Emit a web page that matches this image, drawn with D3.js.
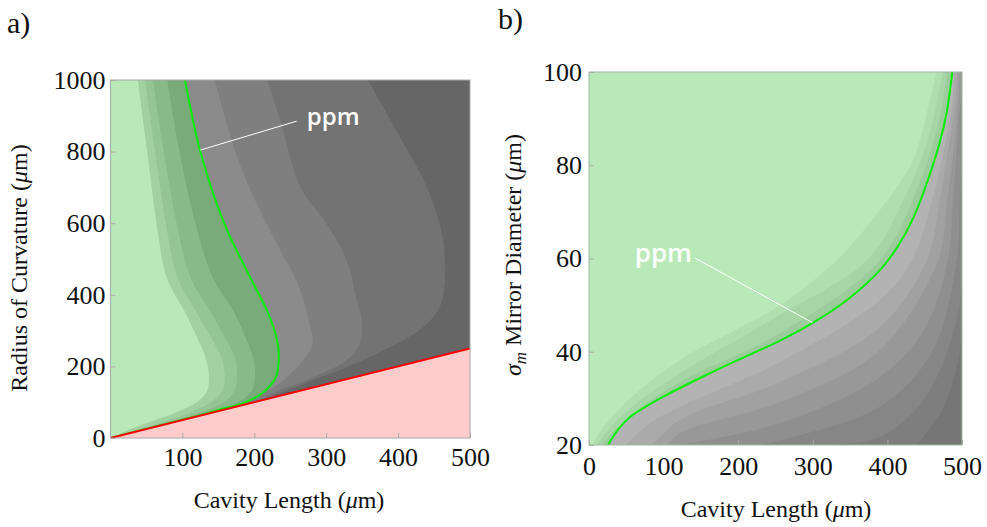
<!DOCTYPE html>
<html><head><meta charset="utf-8">
<script src="https://cdn.jsdelivr.net/npm/d3@7"></script>
<style>
body{margin:0;background:#fff}
.serif{font-family:"Liberation Serif","Times New Roman",serif}
.tag{font-family:"Open Sans",sans-serif;font-weight:600;fill:#ffffff}
</style>
</head><body>
<svg id="chart" width="987" height="527"></svg>
<script>
// ---------- axis ticks ----------
const lengthTicksA = [100, 200, 300, 400, 500];
const radiusTicks = [0, 200, 400, 600, 800, 1000];
const lengthTicksB = [0, 100, 200, 300, 400, 500];
const diameterTicks = [20, 40, 60, 80, 100];

// ---------- panel (a): loss contours, [cavity length, radius of curvature] ----------
// gray contours (right of the ppm line)
const rocGray3 = [[358,1000],[400,850],[440,701],[462,561],[465,469],[465,433],[458,366],[435,310],[389,254],[329,198],[280,160],[236,126],[210,106],[0,0]];
const rocGray2 = [[218,1000],[236,888],[264,701],[300,600],[322,525],[333,469],[340,405],[350,321],[347,265],[329,218],[282,170],[236,134],[200,102],[0,0]];
const rocGray1 = [[145,1000],[173,804],[201,665],[236,525],[260,433],[278,310],[281,265],[268,218],[236,154],[200,112],[165,85],[0,0]];
// ppm contour
const rocPpm = [[103.6,1000],[125,800],[158,600],[194,450],[219,350],[232,270],[234,220],[230,170],[214,130],[188,100],[150,78],[114,58],[0,0]];
// green contours (left of the ppm line)
const rocGreen4 = [[79,1000],[96,800],[118,600],[142,450],[172,350],[190,270],[199,220],[201,170],[196,130],[178,100],[140,72],[106,54],[76,39],[0,0]];
const rocGreen3 = [[59,1000],[74,800],[92,600],[111,450],[140,350],[162,270],[174,220],[176,170],[172,130],[158,100],[130,75],[100,55],[72,40],[45,25],[0,0]];
const rocGreen2 = [[48,1000],[62,800],[77,600],[93,450],[120,350],[143,270],[155,220],[159,170],[155,130],[140,100],[115,75],[90,55],[66,40],[40,25],[0,0]];
const rocGreen1 = [[38,1000],[51,800],[64,600],[78,450],[104,350],[123,270],[133,220],[137,170],[134,130],[120,100],[95,75],[70,55],[48,40],[28,25],[0,0]];
// stability edge R = L/2
const stabilityEdge = [[0,0],[500,250]];

const rocContours = [rocGray3, rocGray2, rocGray1, rocPpm, rocGreen4, rocGreen3, rocGreen2, rocGreen1];
const rocFillColors = ["#737373", "#7f7f7f", "#8b8b8b", "#79aa79", "#88b988", "#94c594", "#a1d0a1", "#b9e9b9"];
const rocBaseColor = "#666666";

// ---------- panel (b): loss contours, [cavity length, mirror diameter] ----------
const diaGray7 = [[440,20],[475,28],[495,38],[500,45]];
const diaGray6 = [[330,20],[390,21.7],[450,30],[490,45],[500,55]];
const diaGray5 = [[230,20],[256,21],[390,28.2],[460,40],[493,59.7],[497,72.5],[500,78]];
const diaGray4 = [[122,20],[256,24.7],[390,34.6],[450,45],[481,59.7],[488,72.5],[495,88],[500,96]];
const diaGray3 = [[105,20],[122,22.6],[256,29.2],[390,40.4],[468,59.7],[480,72.5],[490,85],[494,92],[497,100]];
const diaGray2 = [[85,20],[122,25.4],[256,33.5],[390,45.3],[453,59.7],[470,72.5],[483,85],[490,92],[494,100]];
const diaGray1 = [[50,20],[80,24.5],[122,28.2],[256,37.8],[390,51.1],[433,59.7],[460,72.5],[478,85],[486,92],[490,100]];
const diaPpm = [[25.5,20],[40,23.5],[55,26],[99,30.3],[166,35.7],[220,39.7],[256,42.4],[300,46.2],[346,51.1],[390,57.5],[414,62.6],[432,67.8],[448,74],[470,84.8],[480,91.8],[487,100]];
const diaGreen3 = [[17,20],[40,24],[70,28],[122,33.5],[256,44],[390,59.7],[440,75],[470,90],[480,100]];
const diaGreen2 = [[10.7,20],[30,24],[60,28.5],[122,35.4],[256,47.9],[373,59.7],[420,72],[455,86],[474,100]];
const diaGreen1 = [[4,20],[20,24],[55,30],[122,38.2],[256,50],[332,59.7],[390,70.4],[434,81],[457,94],[466,100]];

const diaContours = [diaGray7, diaGray6, diaGray5, diaGray4, diaGray3, diaGray2, diaGray1, diaPpm, diaGreen3, diaGreen2, diaGreen1];
const diaFillColors = ["#7e7e7e", "#868686", "#8f8f8f", "#989898", "#a1a1a1", "#aaaaaa", "#b3b3b3", "#9ccc9c", "#a6d6a6", "#afdfaf", "#b9e9b9"];
const diaBaseColor = "#767676";

// ---------- drawing ----------
const svg = d3.select("#chart");
const frameColor = "#a8a8a8";

function panel(opts) {
  const { id, x, y, xTicks, yTicks, base, contours, colors, cornersOf } = opts;
  const [x0, x1] = x.range(), [y0, y1] = y.range();
  const g = svg.append("g");
  g.append("clipPath").attr("id", id).append("rect")
    .attr("x", x0).attr("y", y1).attr("width", x1 - x0).attr("height", y0 - y1);
  const plot = g.append("g").attr("clip-path", `url(#${id})`);
  plot.append("rect").attr("x", x0).attr("y", y1).attr("width", x1 - x0).attr("height", y0 - y1).attr("fill", base);
  const smooth = d3.line().x(d => x(d[0])).y(d => y(d[1])).curve(d3.curveCatmullRom.alpha(0.5));
  const straight = d3.line().x(d => x(d[0])).y(d => y(d[1]));
  contours.forEach((c, i) => {
    // smooth contour, closed along the plot edges
    const tail = cornersOf(c).map(p => `L${x(p[0])},${y(p[1])}`).join("");
    plot.append("path").attr("d", smooth(c) + tail + "Z").attr("fill", colors[i]);
  });
  // axes (ticks point inward)
  const fmt = d3.format("d");
  const ax = g.append("g").attr("transform", `translate(0,${y0})`)
    .call(d3.axisBottom(x).tickValues(xTicks).tickFormat(fmt).tickSizeInner(-5).tickSizeOuter(0).tickPadding(opts.xPad));
  const ay = g.append("g").attr("transform", `translate(${x0},0)`)
    .call(d3.axisLeft(y).tickValues(yTicks).tickFormat(fmt).tickSizeInner(-5).tickSizeOuter(0).tickPadding(opts.yPad));
  [ax, ay].forEach(a => {
    a.attr("font-family", null).attr("font-size", null);
    a.select(".domain").remove();
    a.selectAll(".tick line").attr("stroke", frameColor);
    a.selectAll(".tick text").attr("class", "serif").style("font-size", "26px").attr("fill", "#111");
  });
  return { g, plot, smooth, straight };
}

// panel (a)
const xA = d3.scaleLinear([0, 500], [110.5, 470]);
const yA = d3.scaleLinear([0, 1000], [438, 80]);
const pa = panel({
  id: "clipA", x: xA, y: yA, xTicks: lengthTicksA, yTicks: radiusTicks,
  base: rocBaseColor, contours: rocContours, colors: rocFillColors,
  cornersOf: () => [[0, 1000]],
  xPad: 10, yPad: 5
});
// unstable region below R = L/2
const [e0, e1] = stabilityEdge;
pa.plot.append("path").attr("d", pa.smooth(rocPpm)).attr("stroke", "#00ee00").attr("stroke-width", 2).attr("fill", "none");
pa.plot.append("path").attr("d", pa.straight([e0, [e1[0], 0], e1]) + "Z").attr("fill", "#ffcccc");
pa.plot.append("path").attr("d", pa.straight(stabilityEdge)).attr("stroke", "#ff0000").attr("stroke-width", 2).attr("fill", "none");
pa.g.append("rect").attr("x", xA(0)).attr("y", yA(1000)).attr("width", xA(500) - xA(0)).attr("height", yA(0) - yA(1000))
  .attr("fill", "none").attr("stroke", frameColor).attr("stroke-width", 1);
// ppm annotation
pa.g.append("line").attr("x1", xA(124.5)).attr("y1", yA(804)).attr("x2", xA(259)).attr("y2", yA(885))
  .attr("stroke", "#ffffff").attr("stroke-width", 1);
pa.g.append("text").attr("class", "tag").attr("x", xA(273)).attr("y", yA(875)).text("ppm").style("font-size", "24px");

// panel (b)
const xB = d3.scaleLinear([0, 500], [589, 962]);
const yB = d3.scaleLinear([20, 100], [445, 72]);
const pb = panel({
  id: "clipB", x: xB, y: yB, xTicks: lengthTicksB, yTicks: diameterTicks,
  base: diaBaseColor, contours: diaContours, colors: diaFillColors,
  cornersOf: c => (c[c.length - 1][0] >= 500 ? [[500, 100]] : []).concat([[0, 100], [0, 20]]),
  xPad: 12, yPad: 7
});
pb.plot.append("path").attr("d", pb.smooth(diaPpm)).attr("stroke", "#00ee00").attr("stroke-width", 2).attr("fill", "none");
pb.g.append("rect").attr("x", xB(0)).attr("y", yB(100)).attr("width", xB(500) - xB(0)).attr("height", yB(20) - yB(100))
  .attr("fill", "none").attr("stroke", "#9fb89f").attr("stroke-width", 1);
pb.g.append("line").attr("x1", xB(142)).attr("y1", yB(60.1)).attr("x2", xB(300)).attr("y2", yB(46.2))
  .attr("stroke", "#ffffff").attr("stroke-width", 1);
pb.g.append("text").attr("class", "tag").attr("x", xB(138)).attr("y", yB(59.3)).attr("text-anchor", "end").text("ppm").style("font-size", "26px");

// titles
function muLabel(sel, before) {
  sel.append("tspan").text(before);
  sel.append("tspan").attr("font-style", "italic").text("μ");
  sel.append("tspan").text("m)");
}
function title(x, y, rotate) {
  return svg.append("text").attr("class", "serif")
    .attr("transform", `translate(${x},${y})` + (rotate ? " rotate(-90)" : ""))
    .attr("text-anchor", "middle").style("font-size", "24px").attr("fill", "#111");
}
muLabel(title(289, 508), "Cavity Length (");
muLabel(title(776, 517), "Cavity Length (");
muLabel(title(27, 268, true), "Radius of Curvature (");
const yTb = title(521, 255, true);
yTb.append("tspan").attr("font-style", "italic").text("σ");
yTb.append("tspan").attr("font-style", "italic").style("font-size", "17px").attr("dy", 5).text("m");
yTb.append("tspan").attr("dy", -5).text(" Mirror Diameter (");
yTb.append("tspan").attr("font-style", "italic").text("μ");
yTb.append("tspan").text("m)");

svg.append("text").attr("class", "serif").attr("x", 7).attr("y", 33).text("a)").style("font-size", "30px").attr("fill", "#111");
svg.append("text").attr("class", "serif").attr("x", 498).attr("y", 29).text("b)").style("font-size", "30px").attr("fill", "#111");
</script>
</body></html>
